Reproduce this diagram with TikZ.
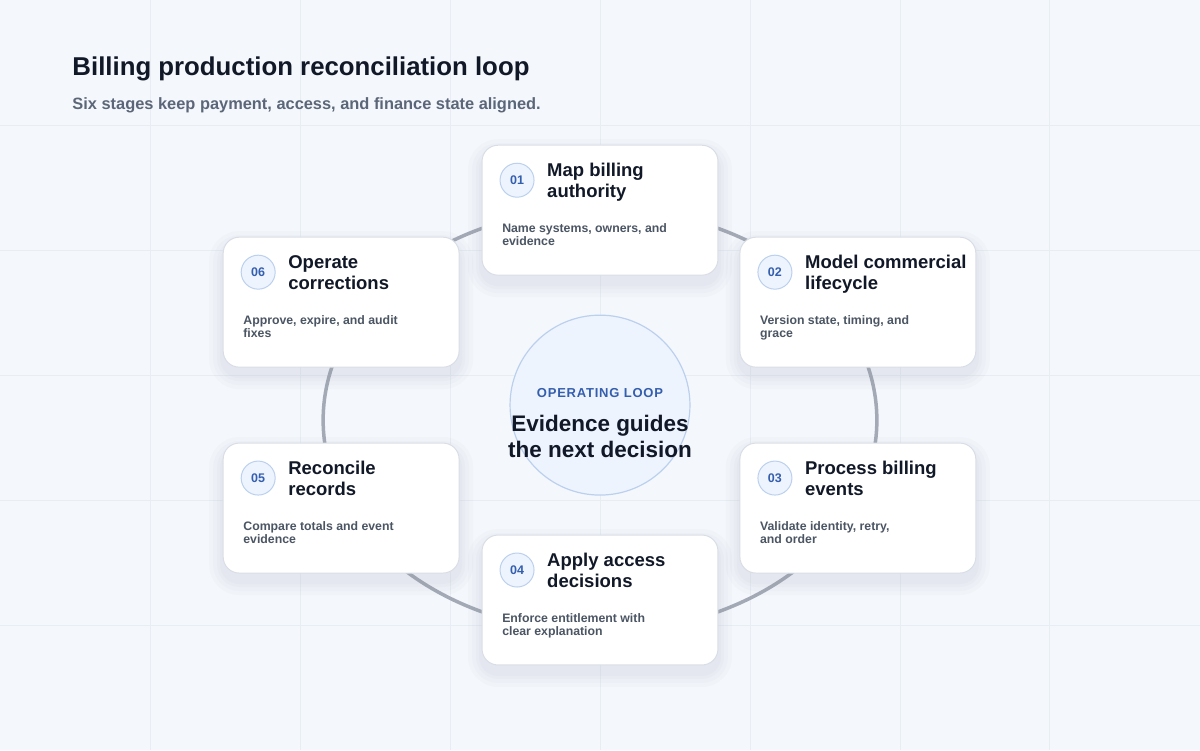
\documentclass[tikz,border=0pt]{standalone}
\usepackage{fontspec}
\setmainfont{Liberation Sans}
\definecolor{bg}{HTML}{F4F7FB}
\definecolor{gridc}{HTML}{E8EDF4}
\definecolor{ring}{HTML}{A3AAB6}
\definecolor{cardb}{HTML}{D9DEE6}
\definecolor{bluef}{HTML}{EEF4FD}
\definecolor{blues}{HTML}{BBD0EF}
\definecolor{bluet}{HTML}{345EAE}
\definecolor{ink}{HTML}{111827}
\definecolor{sub}{HTML}{5B6779}
\definecolor{desc}{HTML}{4B5563}
\definecolor{shad}{HTML}{8A94A8}
\tikzset{
 card/.style={draw=cardb,line width=1pt,fill=white,rounded corners=16pt,minimum width=236pt,minimum height=130pt,inner sep=0pt},
 num/.style={circle,draw=blues,line width=1pt,fill=bluef,minimum size=34pt,inner sep=0pt,font=\fontsize{12.5}{14}\selectfont\bfseries,text=bluet},
 ttl/.style={anchor=north west,align=left,inner sep=0pt,font=\fontsize{18.5}{21}\selectfont\bfseries,text=ink},
 dsc/.style={anchor=north west,align=left,inner sep=0pt,font=\fontsize{12.3}{13}\selectfont\bfseries,text=desc},
}
\begin{document}
\begin{tikzpicture}[x=1pt,y=-1pt]
\fill[bg] (0,0) rectangle (1200,750);
\foreach \x in {150,300,...,1050} \draw[gridc,line width=0.6pt] (\x,0)--(\x,750);
\foreach \y in {125,250,...,625} \draw[gridc,line width=0.6pt] (0,\y)--(1200,\y);
\useasboundingbox (0,0) rectangle (1200,750);
\node[anchor=west,inner sep=0pt,font=\fontsize{25.8}{28}\selectfont\bfseries,text=ink] (title) at (72,69) {Billing production reconciliation loop};
\node[anchor=west,inner sep=0pt,font=\fontsize{16.4}{18}\selectfont\bfseries,text=sub] (subtitle) at (72,105) {Six stages keep payment, access, and finance state aligned.};
\coordinate (c) at (600,420);
\draw[ring,line width=3.5pt] (c) ellipse[x radius=277pt,y radius=212pt];
\node[circle,draw=blues,line width=1.2pt,fill=bluef,minimum size=180pt] (hub) at (600,405) {};
\node[font=\fontsize{13}{15}\selectfont\bfseries,text=bluet,inner sep=0pt] (hl) at (600,393) {\addfontfeature{LetterSpace=6}OPERATING LOOP};
\node[font=\fontsize{22.5}{26}\selectfont\bfseries,text=ink,align=center,inner sep=0pt] (ht) at (600,436) {Evidence guides\\the next decision};
\foreach \n/\x/\y/\ta/\tb/\da/\db in {
 01/482/145/Map billing/authority/{Name systems, owners, and}/evidence,
 02/740/237/Model commercial/lifecycle/{Version state, timing, and}/grace,
 03/740/443/Process billing/events/{Validate identity, retry,}/and order,
 04/482/535/Apply access/decisions/Enforce entitlement with/clear explanation,
 05/223/443/Reconcile/records/Compare totals and event/evidence,
 06/223/237/Operate/corrections/{Approve, expire, and audit}/fixes}{
 \foreach \s in {14,10,6,3}
   \fill[shad,opacity=0.035,rounded corners=16pt+\s pt] (\x-\s,\y+8-\s) rectangle (\x+236+\s,\y+138+\s);
 \node[card] (card\n) at (\x+118,\y+65) {};
 \node[num] (num\n) at (\x+35,\y+35) {\n};
 \node[ttl] (t\n) at (\x+65,\y+18) {\ta\\\tb};
 \node[dsc] (d\n) at (\x+20,\y+78) {\da\\\db};
}
\end{tikzpicture}
\end{document}
